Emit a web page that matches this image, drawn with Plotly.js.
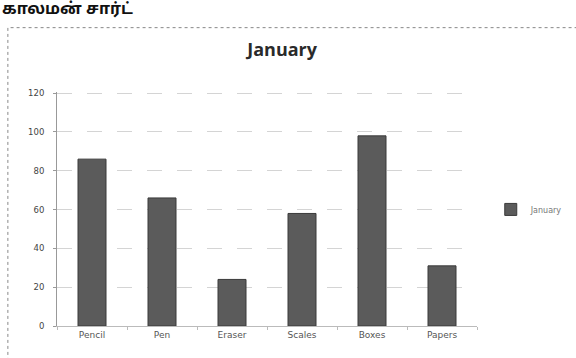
<!DOCTYPE html>
<html><head><meta charset="utf-8">
<script src="https://cdn.plot.ly/plotly-3.0.1.min.js"></script>
<style>html,body{margin:0;padding:0;background:#fff}#c{width:576px;height:358px}</style>
</head><body><div id="c"></div>
<script>
const categories = ["Pencil", "Pen", "Eraser", "Scales", "Boxes", "Papers"];
const january = [86, 66, 24, 58, 98, 31];
const yTicks = [0, 20, 40, 60, 80, 100, 120];
const seriesName = "January";
const heading = "காலமன் சார்ட்";

const data = [{
  type: "bar", x: categories, y: january, name: seriesName,
  marker: {color: "#5b5b5b", line: {color: "#3a3a3a", width: 1}},
  showlegend: true
}];
const layout = {
  width: 576, height: 358,
  margin: {l: 57, r: 99, t: 92, b: 32},
  paper_bgcolor: "#ffffff", plot_bgcolor: "#ffffff",
  bargap: 0.6,
  title: {text: "<b>January</b>", x: 0.536, xref: "paper", xanchor: "center", y: 0.862, yanchor: "middle",
          font: {family: "Open Sans, DejaVu Sans, sans-serif", size: 18, color: "#2a2a2a"}},
  xaxis: {tickfont: {family: "DejaVu Sans, sans-serif", size: 9, color: "#555"},
          showline: true, linecolor: "#bbb", linewidth: 1,
          ticks: "outside", tickson: "boundaries", ticklen: 3, tickcolor: "#bbb",
          showgrid: false, zeroline: false, automargin: false},
  yaxis: {range: [0, 120.6], tickvals: yTicks, ticktext: yTicks.map(String), automargin: false,
          tickfont: {family: "DejaVu Sans, sans-serif", size: 8.5, color: "#444"},
          showgrid: true, gridcolor: "#d4d4d4", griddash: "longdash", gridwidth: 1,
          showline: true, linecolor: "#999", linewidth: 1, ticks: "outside", ticklen: 3, tickcolor: "#999",
          zeroline: false, ticklabelstandoff: 7},
  legend: {xref: "container", yref: "container", x: 0.852, y: 0.415, xanchor: "left", yanchor: "middle",
           bgcolor: "rgba(0,0,0,0)",
           font: {family: "DejaVu Sans, sans-serif", size: 8, color: "#777"}, itemwidth: 30},
  shapes: [{type: "rect", xref: "paper", yref: "paper", x0: -0.117, x1: 1.3, y0: -0.15, y1: 1.275,
            line: {color: "#888", width: 1, dash: "dot"}}],
  annotations: [{text: "<b>" + heading + "</b>", xref: "paper", yref: "paper", x: -0.136, y: 1.35,
                 xanchor: "left", yanchor: "middle", showarrow: false,
                 font: {family: "Noto Sans Tamil, Noto Sans, sans-serif", size: 16, color: "#111"}}]
};
Plotly.newPlot("c", data, layout, {displayModeBar: false, staticPlot: true});
</script></body></html>
